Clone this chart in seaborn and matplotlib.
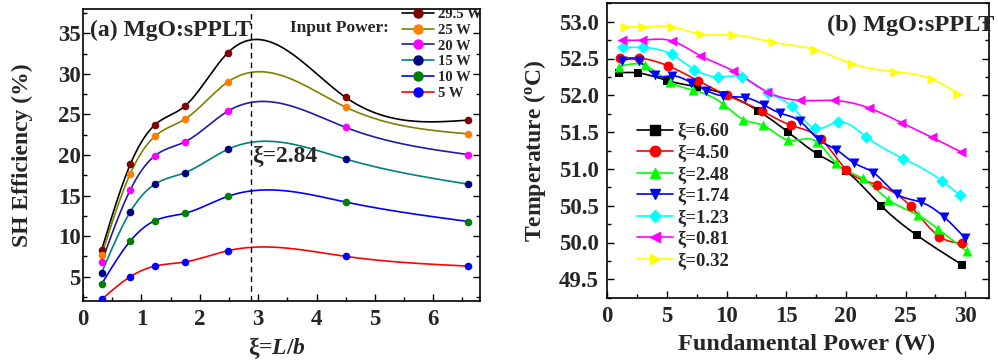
import numpy as np
import matplotlib
matplotlib.use("Agg")
import matplotlib.pyplot as plt
from matplotlib.lines import Line2D
from matplotlib.ticker import MultipleLocator, FormatStrFormatter
import seaborn as sns

# ---------------- data: panel (a) ----------------
xi_vals = [0.32, 0.81, 1.23, 1.74, 2.48, 4.50, 6.60]
eff_29_5 = [8.3, 18.85, 23.7, 26.0, 32.6, 27.1, 24.3]
eff_25 = [7.7, 17.7, 22.3, 24.4, 29.0, 25.9, 22.6]
eff_20 = [6.8, 15.7, 19.9, 21.6, 25.4, 23.4, 20.05]
eff_15 = [5.5, 13.0, 16.4, 17.8, 20.7, 19.5, 16.4]
eff_10 = [4.1, 9.4, 11.9, 12.8, 14.9, 14.2, 11.8]
eff_5 = [2.2, 5.0, 6.3, 6.8, 8.2, 7.5, 6.3]
power_labels = ["29.5 W", "25 W", "20 W", "15 W", "10 W", "5 W"]
xi_opt = 2.87

# ---------------- data: panel (b) ----------------
p_660 = [1.0, 2.54, 5.03, 7.49, 9.98, 12.64, 15.15, 17.64, 20.02, 22.95, 25.94, 29.72]
t_660 = [52.305, 52.305, 52.20, 52.115, 52.01, 51.79, 51.50, 51.20, 50.97, 50.50, 50.10, 49.70]
p_450 = [1.06, 2.68, 5.09, 7.58, 10.04, 12.94, 15.43, 17.95, 20.04, 22.64, 25.44, 27.85, 29.75]
t_450 = [52.505, 52.505, 52.40, 52.20, 52.00, 51.79, 51.59, 51.40, 50.99, 50.785, 50.49, 50.08, 49.99]
p_248 = [0.98, 3.16, 5.26, 7.21, 9.73, 11.41, 13.08, 15.18, 17.56, 19.15, 21.41, 23.57, 26.08, 27.76, 30.14]
t_248 = [52.39, 52.405, 52.18, 52.07, 51.88, 51.67, 51.59, 51.39, 51.37, 51.08, 50.87, 50.58, 50.37, 50.18, 49.88]
p_174 = [1.26, 2.63, 4.03, 5.42, 7.05, 8.30, 9.70, 11.55, 13.17, 14.45, 16.13, 17.78, 19.21, 20.69, 22.31, 24.27, 26.28, 28.21, 30.0]
t_174 = [52.47, 52.47, 52.27, 52.265, 52.17, 52.065, 51.99, 51.97, 51.865, 51.76, 51.65, 51.39, 51.26, 51.08, 50.95, 50.66, 50.55, 50.35, 50.06]
p_123 = [1.34, 3.02, 5.40, 7.30, 9.31, 11.27, 13.50, 15.46, 17.42, 19.37, 21.67, 24.83, 28.04, 29.58]
t_123 = [52.65, 52.65, 52.555, 52.35, 52.25, 52.25, 52.03, 51.85, 51.55, 51.64, 51.44, 51.14, 50.84, 50.64]
p_081 = [1.20, 2.88, 5.40, 7.77, 10.57, 13.36, 16.16, 19.0, 21.9, 24.63, 27.2, 29.66]
t_081 = [52.75, 52.75, 52.74, 52.54, 52.33, 52.05, 51.93, 51.93, 51.83, 51.63, 51.43, 51.23]
p_032 = [1.48, 3.02, 5.45, 7.83, 10.57, 13.92, 17.42, 20.49, 24.13, 27.2, 29.44]
t_032 = [52.93, 52.93, 52.93, 52.83, 52.82, 52.72, 52.62, 52.43, 52.32, 52.22, 52.02]
xi_labels = ["ξ=6.60", "ξ=4.50", "ξ=2.48", "ξ=1.74", "ξ=1.23", "ξ=0.81", "ξ=0.32"]


def spline(x, y, n=300):
    """Natural cubic spline for a smooth connecting line (Origin-style)."""
    x = np.asarray(x, float)
    y = np.asarray(y, float)
    N = len(x)
    h = np.diff(x)
    A = np.zeros((N, N))
    r = np.zeros(N)
    A[0, 0] = 1
    A[-1, -1] = 1
    for i in range(1, N - 1):
        A[i, i - 1] = h[i - 1]
        A[i, i] = 2 * (h[i - 1] + h[i])
        A[i, i + 1] = h[i]
        r[i] = 6 * ((y[i + 1] - y[i]) / h[i] - (y[i] - y[i - 1]) / h[i - 1])
    M = np.linalg.solve(A, r)
    xs = np.linspace(x[0], x[-1], n)
    idx = np.clip(np.searchsorted(x, xs) - 1, 0, N - 2)
    x0 = x[idx]
    x1 = x[idx + 1]
    hh = x1 - x0
    a = (x1 - xs) / hh
    b = (xs - x0) / hh
    ys = a * y[idx] + b * y[idx + 1] + ((a ** 3 - a) * M[idx] + (b ** 3 - b) * M[idx + 1]) * hh ** 2 / 6
    return xs, ys


sns.set_style("ticks")
SERIF = "Liberation Serif"
plt.rcParams["font.family"] = [SERIF, "DejaVu Serif"]
plt.rcParams["font.weight"] = "bold"
plt.rcParams["mathtext.fontset"] = "custom"
plt.rcParams["mathtext.rm"] = "Liberation Serif:bold"
plt.rcParams["mathtext.it"] = "Liberation Serif:italic:bold"
plt.rcParams["mathtext.bf"] = "Liberation Serif:bold"

fig = plt.figure(figsize=(9.98, 3.62), dpi=100)
W, H = 998.0, 362.0
axA = fig.add_axes([83 / W, 1 - 301 / H, 397 / W, 292 / H])
axB = fig.add_axes([607.3 / W, 1 - 297.7 / H, 381.7 / W, 294.4 / H])

# ---------------- panel (a) ----------------
eff_series = [eff_29_5, eff_25, eff_20, eff_15, eff_10, eff_5]
line_cols = ["#000000", "#808000", "#1c1ca8", "#008080", "#0000ff", "#ff0000"]
mark_cols = ["#800000", "#ff8000", "#ff00ff", "#000080", "#008000", "#0000ff"]
for ys_, lc, mc in zip(eff_series, line_cols, mark_cols):
    sx, sy = spline(xi_vals, ys_)
    sns.lineplot(x=sx, y=sy, ax=axA, color=lc, lw=1.2, estimator=None, errorbar=None, sort=False)
    sns.scatterplot(x=xi_vals, y=ys_, ax=axA, color=mc, s=30, linewidth=0, zorder=3)

axA.axvline(xi_opt, color="black", ls=(0, (4, 3)), lw=1.0)
axA.set_xlim(0, 6.8)
axA.set_ylim(2, 38)
axA.xaxis.set_major_locator(MultipleLocator(1))
axA.xaxis.set_minor_locator(MultipleLocator(0.5))
axA.yaxis.set_major_locator(MultipleLocator(5))
axA.yaxis.set_minor_locator(MultipleLocator(2.5))
axA.text(0.12, 35.4, "(a) MgO:sPPLT", fontsize=17, fontweight="bold", ha="left", va="center")
axA.text(3.55, 35.6, "Input Power:", fontsize=12.5, fontweight="bold", ha="left", va="center")
axA.text(2.89, 19.8, "ξ=2.84", fontsize=17, fontweight="bold", ha="left", va="center")
hA = [Line2D([], [], color=lc, marker="o", mfc=mc, mec=mc, ms=6.5, lw=1.2) for lc, mc in zip(line_cols, mark_cols)]
fig.legend(hA, power_labels, loc="upper left", bbox_to_anchor=(402 / W, 1 - 8 / H),
           frameon=False, prop={"weight": "bold", "size": 10.5, "family": SERIF},
           handlelength=2.2, handletextpad=0.3, labelspacing=0.17, borderpad=0, borderaxespad=0)
axA.set_xlabel("ξ=$\\mathit{L/b}$", fontsize=17, fontweight="bold")
axA.set_ylabel("SH Efficiency (%)", fontsize=17, fontweight="bold")
axA.xaxis.set_label_coords(0.49, -0.115)
axA.yaxis.set_label_coords(-0.125, 0.5)

# ---------------- panel (b) ----------------
p_series = [p_660, p_450, p_248, p_174, p_123, p_081, p_032]
t_series = [t_660, t_450, t_248, t_174, t_123, t_081, t_032]
colsB = ["#000000", "#ff0000", "#00ff00", "#0000ff", "#00ffff", "#ff00ff", "#ffff00"]
marksB = ["s", "o", "^", "v", "D", "<", ">"]
sizesB = [40, 50, 52, 52, 40, 52, 52]
for px, ty, c, m, s in zip(p_series, t_series, colsB, marksB, sizesB):
    sx, sy = spline(px, ty)
    sns.lineplot(x=sx, y=sy, ax=axB, color=c, lw=1.2, estimator=None, errorbar=None, sort=False)
    sns.scatterplot(x=px, y=ty, ax=axB, color=c, marker=m, s=s, linewidth=0, zorder=3)

axB.set_xlim(0, 32)
axB.set_ylim(49.25, 53.25)
axB.xaxis.set_major_locator(MultipleLocator(5))
axB.xaxis.set_minor_locator(MultipleLocator(2.5))
axB.yaxis.set_major_locator(MultipleLocator(0.5))
axB.yaxis.set_minor_locator(MultipleLocator(0.25))
axB.yaxis.set_major_formatter(FormatStrFormatter("%.1f"))
axB.text(1.015, 0.925, "(b) MgO:sPPLT", transform=axB.transAxes, fontsize=17.5, fontweight="bold",
         ha="right", va="center", clip_on=False)
msB = [6.5, 7.5, 7.5, 7.5, 6.5, 7.5, 7.5]
hB = [Line2D([], [], color=c, marker=m, mfc=c, mec=c, ms=ms, lw=1.2) for c, m, ms in zip(colsB, marksB, msB)]
fig.legend(hB, xi_labels, loc="upper left", bbox_to_anchor=(637 / W, 1 - 123 / H),
           frameon=False, prop={"weight": "bold", "size": 13.5, "family": SERIF},
           handlelength=1.9, handletextpad=0.25, labelspacing=0.22, borderpad=0, borderaxespad=0)
axB.set_xlabel("Fundamental Power (W)", fontsize=17.5, fontweight="bold")
axB.set_ylabel("Temperature ($^{\\mathrm{o}}$C)", fontsize=17, fontweight="bold")
axB.xaxis.set_label_coords(0.522, -0.122)
axB.yaxis.set_label_coords(-0.155, 0.5)

# ---------------- common axis styling ----------------
for ax, ypad in ((axA, 1.5), (axB, 6)):
    for sp in ax.spines.values():
        sp.set_visible(True)
        sp.set_linewidth(1.2)
        sp.set_color("black")
    ax.tick_params(which="both", direction="in", left=True, right=True, bottom=True, top=False,
                   color="black", width=1.0)
    ax.tick_params(which="major", length=5)
    ax.tick_params(which="minor", length=3)
    ax.tick_params(axis="x", which="major", pad=6, labelsize=16.5)
    ax.tick_params(axis="y", which="major", pad=ypad, labelsize=16.5)
    for lab in ax.get_xticklabels() + ax.get_yticklabels():
        lab.set_fontweight("bold")
        lab.set_family(SERIF)

fig.savefig("out.png", dpi=100)
